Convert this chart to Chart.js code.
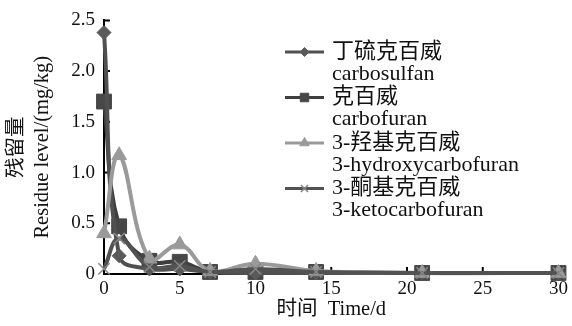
<!DOCTYPE html>
<html>
<head>
<meta charset="utf-8">
<script src="https://cdn.jsdelivr.net/npm/chart.js@4.4.0/dist/chart.umd.min.js"></script>
<style>
  html, body { margin: 0; padding: 0; background: #fff; }
  canvas { display: block; }
</style>
</head>
<body>
<canvas id="residueChart"></canvas>
<script>
// Данные: дни отбора проб и остатки (мг/кг)
const days = [0, 1, 3, 5, 7, 10, 14, 21, 30];
const carbosulfan = [2.38, 0.18, 0.05, 0.05, 0.02, 0.01, 0.01, 0.01, 0.01];
const carbofuran = [1.70, 0.47, 0.13, 0.12, 0.02, 0.02, 0.02, 0.01, 0.01];
const hydroxyCarbofuran = [0.40, 1.17, 0.15, 0.29, 0.03, 0.10, 0.03, 0.01, 0.01];
const ketoCarbofuran = [0.05, 0.35, 0.07, 0.08, 0.02, 0.05, 0.02, 0.01, 0.01];

const seriesNames = [
    ['丁硫克百威', 'carbosulfan'],
    ['克百威', 'carbofuran'],
    ['3-羟基克百威', '3-hydroxycarbofuran'],
    ['3-酮基克百威', '3-ketocarbofuran']
];
const xTickValues = [0, 5, 10, 15, 20, 25, 30];
const yTickValues = [0, 0.5, 1.0, 1.5, 2.0, 2.5];

const FONT = '"Liberation Serif", "Times New Roman", "Noto Sans CJK SC", serif';

const canvas = document.getElementById('residueChart');
canvas.width = 572;
canvas.height = 326;
const ctx = canvas.getContext('2d');

function toPoints(values) {
    return days.map((d, i) => ({ x: d, y: values[i] }));
}

// Засечки внутрь области графика
const innerTicksPlugin = {
    id: 'innerTicks',
    beforeDatasetsDraw: (chart) => {
        const c = chart.ctx;
        const { x, y } = chart.scales;
        c.save();
        c.strokeStyle = '#000';
        c.lineWidth = 2;
        c.beginPath();
        x.ticks.forEach(t => {
            const px = x.getPixelForValue(t.value);
            c.moveTo(px, x.top);
            c.lineTo(px, x.top - 7);
        });
        y.ticks.forEach(t => {
            const py = y.getPixelForValue(t.value);
            c.moveTo(y.right, py);
            c.lineTo(y.right + 6, py);
        });
        c.stroke();
        c.restore();
    }
};

// Легенда в две строки (китайский + английский)
const legendPlugin = {
    id: 'twoLineLegend',
    afterDraw: (chart) => {
        const c = chart.ctx;
        const legendSizes = [4.5, 6, 5.5, 5];
        c.save();
        c.font = `22px ${FONT}`;
        c.textBaseline = 'middle';
        c.textAlign = 'left';
        chart.data.datasets.forEach((ds, i) => {
            const rowY = 52 + i * 45.5;
            c.strokeStyle = ds.borderColor;
            c.lineWidth = 3;
            c.beginPath();
            c.moveTo(285, rowY);
            c.lineTo(324, rowY);
            c.stroke();
            c.fillStyle = ds.pointBackgroundColor;
            c.strokeStyle = ds.pointBorderColor;
            c.lineWidth = ds.pointBorderWidth;
            Chart.helpers.drawPoint(c, {
                pointStyle: ds.pointStyle,
                radius: legendSizes[i],
                borderWidth: ds.pointBorderWidth,
                rotation: 0
            }, 304.5, rowY);
            c.fillStyle = '#111';
            c.fillText(ds.label[0], 332, rowY);
            c.fillText(ds.label[1], 332, rowY + 22);
        });
        c.restore();
    }
};

const residueChart = new Chart(ctx, {
    type: 'line',
    data: {
        datasets: [
            {
                label: seriesNames[0],
                data: toPoints(carbosulfan),
                borderColor: '#505050',
                pointBackgroundColor: '#5a5a5a',
                pointBorderColor: '#5a5a5a',
                pointStyle: 'rectRot',
                pointRadius: 7,
                pointBorderWidth: 1,
                order: 3
            },
            {
                label: seriesNames[1],
                data: toPoints(carbofuran),
                borderColor: '#3e3e3e',
                pointBackgroundColor: '#474747',
                pointBorderColor: '#474747',
                pointStyle: 'rect',
                pointRadius: 10.5,
                pointBorderWidth: 1,
                order: 4
            },
            {
                label: seriesNames[2],
                data: toPoints(hydroxyCarbofuran),
                borderColor: '#9a9a9a',
                pointBackgroundColor: '#9a9a9a',
                pointBorderColor: '#9a9a9a',
                pointStyle: 'triangle',
                pointRadius: 8.5,
                pointBorderWidth: 1,
                order: 2
            },
            {
                label: seriesNames[3],
                data: toPoints(ketoCarbofuran),
                borderColor: '#525252',
                pointBackgroundColor: '#888888',
                pointBorderColor: '#888888',
                pointStyle: 'crossRot',
                pointRadius: 8,
                pointBorderWidth: 1.5,
                order: 1
            }
        ]
    },
    options: {
        responsive: false,
        maintainAspectRatio: false,
        animation: false,
        events: [],
        clip: false,
        elements: {
            line: { borderWidth: 4, tension: 0.4, fill: false }
        },
        layout: {
            padding: { top: 19, right: 7, left: 0, bottom: 0 }
        },
        plugins: {
            legend: { display: false },
            tooltip: { enabled: false }
        },
        scales: {
            x: {
                type: 'linear',
                min: 0,
                max: 30,
                afterBuildTicks: (s) => { s.ticks = xTickValues.map(v => ({ value: v })); },
                afterFit: (s) => { s.height = 52; },
                grid: { display: false, drawTicks: false },
                border: { display: true, color: '#000', width: 2 },
                ticks: {
                    padding: 4,
                    color: '#111',
                    font: { family: FONT, size: 19 },
                    maxRotation: 0,
                    callback: (v) => String(v)
                },
                title: {
                    display: true,
                    text: '时间  Time/d',
                    color: '#111',
                    font: { family: FONT, size: 20.5, lineHeight: 1.2 },
                    padding: { top: 0, bottom: 4 }
                }
            },
            y: {
                min: 0,
                max: 2.5,
                afterBuildTicks: (s) => { s.ticks = yTickValues.map(v => ({ value: v })); },
                afterFit: (s) => { s.width = 104; },
                grid: { display: false, drawTicks: false },
                border: { display: true, color: '#000', width: 2 },
                ticks: {
                    padding: 9,
                    color: '#111',
                    font: { family: FONT, size: 19 },
                    callback: (v) => (v === 0 ? '0' : v.toFixed(1))
                },
                title: {
                    display: true,
                    text: ['残留量', 'Residue level/(mg/kg)'],
                    color: '#111',
                    font: { family: FONT, size: 20.5, lineHeight: 1.27 },
                    padding: { top: 4, bottom: 0 }
                }
            }
        }
    },
    plugins: [innerTicksPlugin, legendPlugin]
});
</script>
</body>
</html>
